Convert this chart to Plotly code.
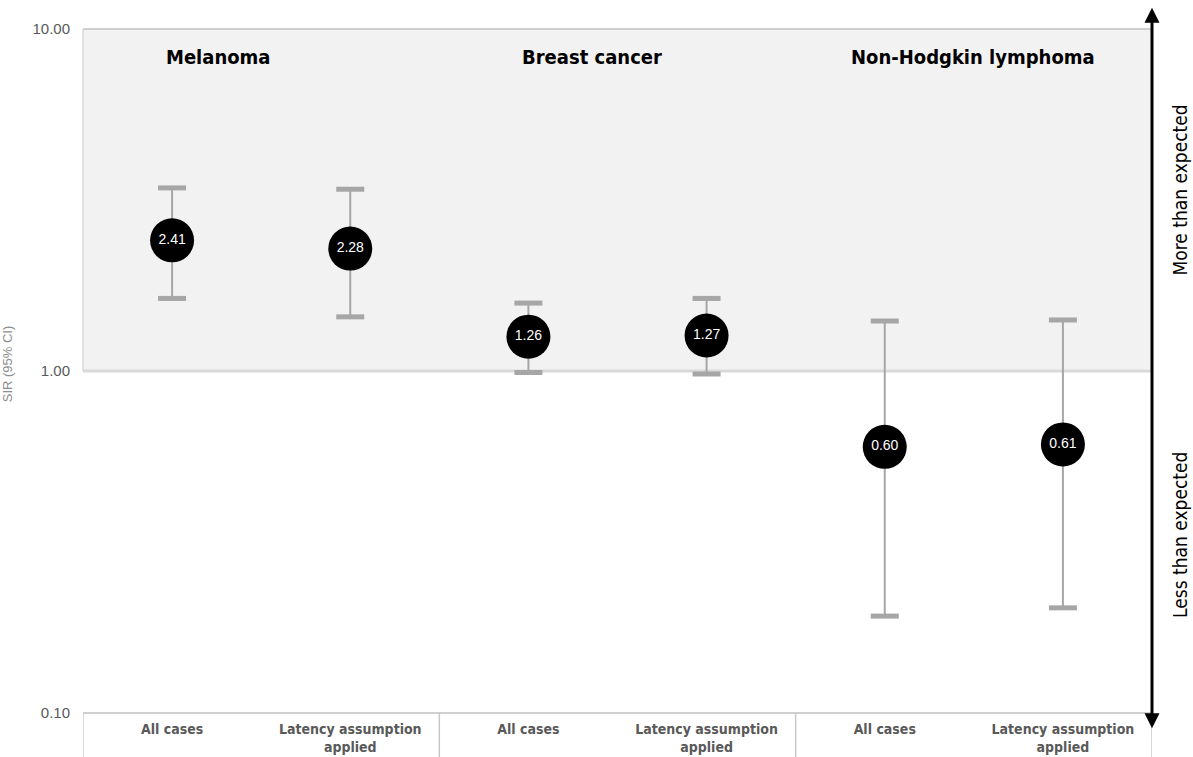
import plotly.graph_objects as go

categories = ["All cases", "Latency assumption<br>applied"] * 3
groups = ["Melanoma", "Breast cancer", "Non-Hodgkin lymphoma"]
sir = [2.41, 2.28, 1.26, 1.27, 0.60, 0.61]
ci_low = [1.63, 1.44, 0.99, 0.98, 0.192, 0.203]
ci_high = [3.43, 3.40, 1.58, 1.63, 1.40, 1.41]
sir_labels = [f"{v:.2f}" for v in sir]
y_ticks = [0.1, 1, 10]
y_ticktext = ["0.10", "1.00", "10.00"]

xs = list(range(len(sir)))
narrow = "Liberation Sans Narrow, Arial Narrow, DejaVu Sans Condensed, sans-serif"
grey = "#a6a6a6"

fig = go.Figure()

# stems
fig.add_trace(go.Scatter(
    x=xs, y=sir, mode="markers", marker=dict(size=1, color="rgba(0,0,0,0)"),
    error_y=dict(type="data", symmetric=False,
                 array=[h - v for h, v in zip(ci_high, sir)],
                 arrayminus=[v - l for l, v in zip(ci_low, sir)],
                 color=grey, thickness=2, width=0),
    hoverinfo="skip", showlegend=False))
# caps
fig.add_trace(go.Scatter(
    x=xs + xs, y=ci_high + ci_low, mode="markers",
    marker=dict(symbol="line-ew", size=20, line=dict(width=5, color=grey)),
    hoverinfo="skip", showlegend=False))
# points
fig.add_trace(go.Scatter(
    x=xs, y=sir, mode="markers+text", text=sir_labels,
    textposition="middle center",
    textfont=dict(color="white", size=14, family="Liberation Sans, Arial, sans-serif"),
    marker=dict(size=44, color="black"),
    showlegend=False))

shapes = [
    dict(type="rect", xref="paper", yref="paper", x0=0, x1=1, y0=0.5, y1=1,
         fillcolor="#f2f2f2", line=dict(width=0), layer="below"),
    dict(type="line", xref="paper", yref="paper", x0=0, x1=1, y0=1, y1=1,
         line=dict(color="#c0c0c0", width=1.5), layer="below"),
    dict(type="line", xref="paper", yref="paper", x0=0, x1=0, y0=0.5, y1=1,
         line=dict(color="#d9d9d9", width=1.5), layer="below"),
    dict(type="line", xref="paper", yref="paper", x0=0, x1=1, y0=0.5, y1=0.5,
         line=dict(color="#d9d9d9", width=3), layer="below"),
    dict(type="line", xref="paper", yref="paper", x0=0, x1=1, y0=0, y1=0,
         line=dict(color="#c0c0c0", width=1.5)),
]
for xv in [-0.5, 1.5, 3.5, 5.5]:
    shapes.append(dict(type="line", xref="x", yref="paper", x0=xv, x1=xv, y0=0, y1=-0.07,
                       line=dict(color="#c8c8c8", width=1.5)))

annotations = []
for g, px in zip(groups, [0.126, 0.476, 0.833]):
    annotations.append(dict(text=f"<b>{g}</b>", xref="paper", yref="paper", x=px, y=0.959,
                            xanchor="center", yanchor="middle",
                            showarrow=False, font=dict(family=narrow, size=20, color="black")))
annotations.append(dict(text="More than expected", xref="paper", yref="paper", x=1.026, y=0.765,
                        xanchor="center", yanchor="middle",
                        textangle=-90, showarrow=False, font=dict(family=narrow, size=19, color="black")))
annotations.append(dict(text="Less than expected", xref="paper", yref="paper", x=1.026, y=0.26,
                        xanchor="center", yanchor="middle",
                        textangle=-90, showarrow=False, font=dict(family=narrow, size=19, color="black")))
annotations.append(dict(text="SIR (95% CI)", xref="paper", yref="paper", x=-0.071, y=0.51,
                        xanchor="center", yanchor="middle",
                        textangle=-90, showarrow=False,
                        font=dict(family="Liberation Sans, Arial, sans-serif", size=13, color="#8c8c8c")))
annotations.append(dict(text="", xref="paper", yref="paper", x=1, y=1.031, ax=0, ay=722,
                        showarrow=True, arrowhead=2, arrowside="end+start", arrowsize=1,
                        arrowwidth=3, arrowcolor="black"))

fig.update_layout(
    width=1193, height=757,
    margin=dict(l=83, r=41, t=29, b=44, autoexpand=False),
    plot_bgcolor="white", paper_bgcolor="white",
    shapes=shapes, annotations=annotations,
    xaxis=dict(range=[-0.5, 5.5], tickmode="array", tickvals=xs, ticktext=[f"<b>{c}</b>" for c in categories],
               tickfont=dict(family=narrow, size=14, color="#595959"), showgrid=False,
               zeroline=False, showline=False, ticks="", automargin=False, ticklabelstandoff=6),
    yaxis=dict(type="log", range=[-1, 1], tickmode="array", tickvals=y_ticks, ticktext=y_ticktext,
               tickfont=dict(family="Liberation Sans, Arial, sans-serif", size=15, color="#595959"),
               showgrid=False, zeroline=False, showline=False, ticks="", automargin=False,
               ticklabelstandoff=12),
)

fig.write_html("out.html", post_script="document.body.style.margin='0px';",
               config={"displayModeBar": False})
